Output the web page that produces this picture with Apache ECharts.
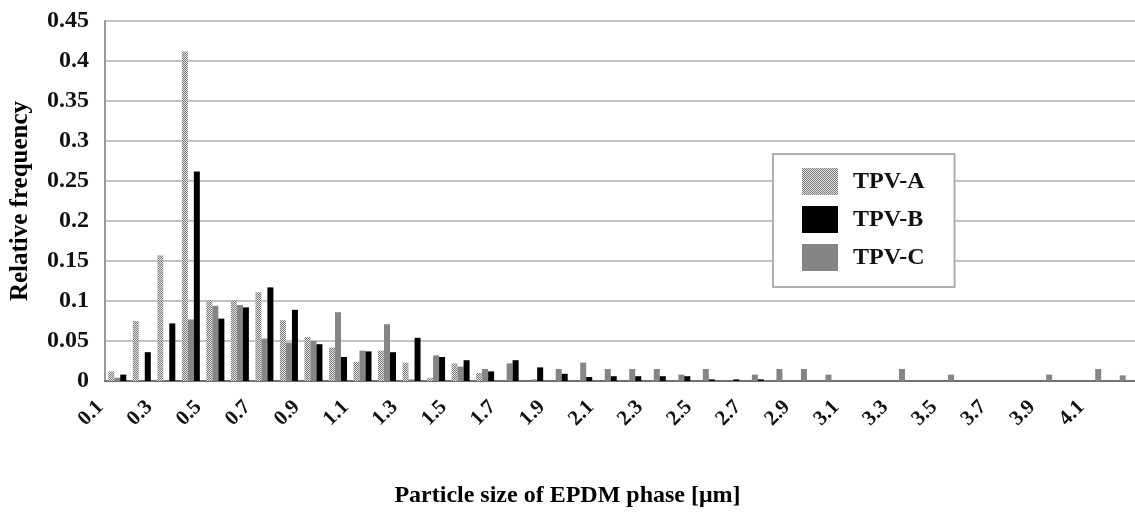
<!DOCTYPE html>
<html>
<head>
    <meta charset="UTF-8">
    <title>Particle size distribution</title>
    <script src="https://cdn.jsdelivr.net/npm/echarts@6.0.0/dist/echarts.min.js"></script>
    <style>
        body { margin: 0; background: #fff; }
        #chart { width: 1135px; height: 514px; }
    </style>
</head>
<body>
<div id="chart"></div>
<script>
    // particle size classes [um]
    var sizes = ['0.1', '0.2', '0.3', '0.4', '0.5', '0.6', '0.7', '0.8', '0.9', '1.0',
        '1.1', '1.2', '1.3', '1.4', '1.5', '1.6', '1.7', '1.8', '1.9', '2.0',
        '2.1', '2.2', '2.3', '2.4', '2.5', '2.6', '2.7', '2.8', '2.9', '3.0',
        '3.1', '3.2', '3.3', '3.4', '3.5', '3.6', '3.7', '3.8', '3.9', '4.0',
        '4.1', '4.2'];

    var tpvA = [0.012, 0.075, 0.157, 0.412, 0.101, 0.101, 0.111, 0.076, 0.055, 0.042,
        0.024, 0.038, 0.023, 0.004, 0.022, 0.010, 0, 0, 0, 0,
        0, 0, 0, 0, 0, 0, 0, 0, 0, 0,
        0, 0, 0, 0, 0, 0, 0, 0, 0, 0,
        0, 0];

    var tpvB = [0.008, 0.036, 0.072, 0.262, 0.078, 0.092, 0.117, 0.089, 0.046, 0.030,
        0.037, 0.036, 0.054, 0.030, 0.026, 0.012, 0.026, 0.017, 0.009, 0.005,
        0.006, 0.006, 0.006, 0.006, 0.002, 0.002, 0.002, 0, 0, 0,
        0, 0, 0, 0, 0, 0, 0, 0, 0, 0,
        0, 0];

    var tpvC = [0.004, 0, 0, 0.077, 0.094, 0.095, 0.053, 0.048, 0.050, 0.086,
        0.038, 0.071, 0.002, 0.032, 0.018, 0.015, 0.022, 0.002, 0.015, 0.023,
        0.015, 0.015, 0.015, 0.008, 0.015, 0, 0.008, 0.015, 0.015, 0.008,
        0, 0, 0.015, 0, 0.008, 0, 0, 0, 0.008, 0,
        0.015, 0.007];

    // dotted fill for TPV-A
    var pat = document.createElement('canvas');
    pat.width = 4;
    pat.height = 4;
    var ctx = pat.getContext('2d');
    ctx.fillStyle = '#e4e4e4';
    ctx.fillRect(0, 0, 4, 4);
    ctx.fillStyle = '#7a7a7a';
    ctx.fillRect(0, 0, 1, 1);
    ctx.fillRect(2, 0, 1, 1);
    ctx.fillRect(1, 1, 1, 1);
    ctx.fillRect(3, 1, 1, 1);
    ctx.fillRect(0, 2, 1, 1);
    ctx.fillRect(2, 2, 1, 1);
    ctx.fillRect(1, 3, 1, 1);
    ctx.fillRect(3, 3, 1, 1);

    var font = 'Liberation Serif';

    var chart = echarts.init(document.getElementById('chart'), null, {renderer: 'canvas'});
    chart.setOption({
        animation: false,
        backgroundColor: '#fff',
        title: {
            text: 'Particle size of EPDM phase [\u03bcm]',
            left: 'center',
            top: 479,
            textStyle: {fontFamily: font, fontWeight: 'bold', fontSize: 24, color: '#000'}
        },
        legend: {
            orient: 'vertical',
            left: 773,
            top: 154,
            data: ['TPV-A', 'TPV-B', 'TPV-C'],
            itemWidth: 36,
            itemHeight: 27,
            itemGap: 11,
            padding: [14, 30, 16, 29],
            borderColor: '#b0b0b0',
            borderWidth: 2,
            backgroundColor: '#fff',
            icon: 'rect',
            textStyle: {fontFamily: font, fontWeight: 'bold', fontSize: 24, color: '#111', padding: [0, 0, 0, 10]}
        },
        grid: {left: 105, top: 21, height: 360, width: 1037},
        xAxis: {
            type: 'category',
            data: sizes,
            axisLine: {lineStyle: {color: '#707070', width: 2}},
            axisTick: {interval: 0, length: 7, lineStyle: {color: '#999', width: 1}},
            axisLabel: {
                interval: 1,
                rotate: 45,
                margin: 6,
                padding: [0, 24, 0, 0],
                fontFamily: font,
                fontWeight: 'bold',
                fontSize: 21,
                color: '#111'
            }
        },
        yAxis: {
            type: 'value',
            min: 0,
            max: 0.45,
            interval: 0.05,
            name: 'Relative frequency',
            nameLocation: 'middle',
            nameGap: 72,
            nameTextStyle: {fontFamily: font, fontWeight: 'bold', fontSize: 25, color: '#000'},
            axisLine: {show: true, lineStyle: {color: '#999', width: 2}},
            axisTick: {show: false},
            splitLine: {lineStyle: {color: '#c4c4c4', width: 2}},
            axisLabel: {
                margin: 16,
                fontFamily: font,
                fontWeight: 'bold',
                fontSize: 24,
                color: '#111'
            }
        },
        series: [
            {name: 'TPV-A', type: 'bar', data: tpvA, barWidth: 6, barGap: '0%', itemStyle: {color: {image: pat, repeat: 'repeat'}}},
            {name: 'TPV-C', type: 'bar', data: tpvC, barWidth: 6, barGap: '0%', itemStyle: {color: '#858585'}},
            {name: 'TPV-B', type: 'bar', data: tpvB, barWidth: 6, barGap: '0%', itemStyle: {color: '#000'}}
        ]
    });
</script>
</body>
</html>
